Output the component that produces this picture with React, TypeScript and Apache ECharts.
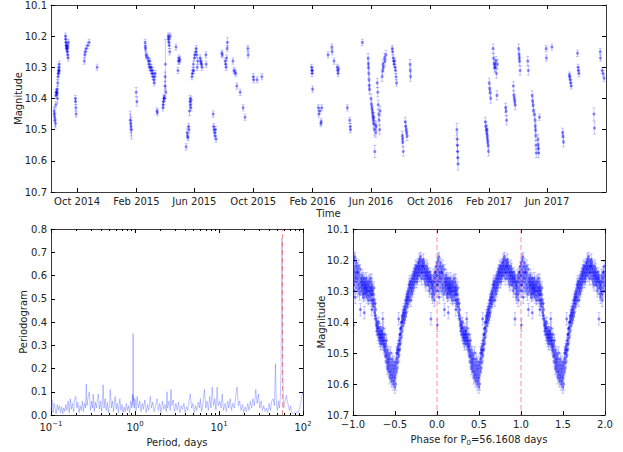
import React, { useEffect, useRef } from 'react';
import * as echarts from 'echarts';

// ---------- DATA ----------
// Time-series observations: [days since 2014-10-01, magnitude, error]
const obsEpoch = '2014-10-01';
const obs2014: [number, number, number][] = [
  [-47.5, 10.44, 0.015], [-47, 10.45, 0.02], [-46.5, 10.46, 0.015], [-45.5, 10.47, 0.02], [-44.5, 10.48, 0.015], [-44, 10.42, 0.01],
  [-44, 10.39, 0.01], [-43, 10.38, 0.01], [-42.5, 10.38, 0.01], [-42, 10.385, 0.01], [-41.5, 10.38, 0.01], [-41, 10.37, 0.01], [-40.5, 10.4, 0.015],
  [-40, 10.35, 0.01], [-39.5, 10.33, 0.01], [-39, 10.32, 0.01], [-38.5, 10.31, 0.01], [-38, 10.315, 0.01], [-37.5, 10.3, 0.01], [-37, 10.29, 0.01], [-36.5, 10.31, 0.01],
  [-24, 10.2, 0.01], [-23.5, 10.21, 0.01], [-23, 10.22, 0.01], [-22.5, 10.23, 0.01], [-22, 10.235, 0.01], [-21.5, 10.24, 0.01], [-21, 10.23, 0.01], [-20.5, 10.24, 0.01],
  [-20, 10.25, 0.01], [-19.5, 10.26, 0.01], [-19, 10.235, 0.01], [-18.5, 10.27, 0.01], [-18, 10.22, 0.01],
  [-3.5, 10.4, 0.01], [-3, 10.41, 0.01], [-2.5, 10.43, 0.01], [-2, 10.45, 0.01],
  [15, 10.28, 0.01], [16, 10.26, 0.01], [17, 10.25, 0.01], [19, 10.24, 0.01], [22, 10.23, 0.01], [25, 10.22, 0.01],
  [41.5, 10.3, 0.01],
];
const obs2015: [number, number, number][] = [
  [110, 10.47, 0.03], [111, 10.48, 0.03], [112, 10.49, 0.03], [113, 10.5, 0.03],
  [122.5, 10.38, 0.015], [124, 10.41, 0.015],
  [141, 10.22, 0.01], [141.5, 10.235, 0.01], [142, 10.24, 0.01], [143, 10.26, 0.01], [144, 10.265, 0.01],
  [147, 10.27, 0.01], [148, 10.28, 0.01], [149, 10.29, 0.01], [150, 10.3, 0.01], [151, 10.28, 0.01], [152, 10.3, 0.01], [153, 10.31, 0.01], [154, 10.3, 0.01],
  [155, 10.32, 0.01], [156, 10.31, 0.01], [157, 10.33, 0.01], [158, 10.32, 0.01], [159, 10.34, 0.01], [160, 10.35, 0.01], [161, 10.33, 0.01], [162, 10.32, 0.01],
  [165.5, 10.44, 0.01], [166.5, 10.445, 0.01],
  [178, 10.43, 0.01], [178.5, 10.42, 0.01], [179, 10.41, 0.01], [180, 10.4, 0.01], [180.5, 10.395, 0.01], [181, 10.4, 0.01], [182, 10.36, 0.015], [182.5, 10.33, 0.015], [183, 10.29, 0.08], [184, 10.38, 0.02],
  [189, 10.2, 0.01], [189.5, 10.21, 0.01], [190, 10.205, 0.01], [190.5, 10.22, 0.01], [191, 10.23, 0.01], [192, 10.25, 0.01], [193, 10.2, 0.01],
  [205, 10.235, 0.01],
  [209, 10.31, 0.01], [210, 10.28, 0.01], [211, 10.27, 0.01], [212, 10.28, 0.01], [213, 10.275, 0.01],
  [226, 10.555, 0.01], [228, 10.51, 0.015], [229, 10.52, 0.01], [230, 10.525, 0.01], [231, 10.49, 0.01], [232, 10.5, 0.01], [233, 10.44, 0.015], [234, 10.41, 0.01], [234.5, 10.4, 0.01], [235, 10.42, 0.01], [236, 10.43, 0.01], [236.5, 10.405, 0.01],
  [238, 10.33, 0.01], [239, 10.32, 0.01], [240, 10.31, 0.01], [241, 10.29, 0.01], [242, 10.31, 0.01], [243, 10.27, 0.01], [244, 10.26, 0.01], [246, 10.25, 0.01], [247, 10.24, 0.01], [248, 10.26, 0.01], [249, 10.3, 0.01], [250, 10.28, 0.01],
  [255, 10.27, 0.01], [256, 10.28, 0.01], [257, 10.285, 0.01], [258, 10.29, 0.01], [259, 10.3, 0.01],
  [267, 10.26, 0.01], [267.5, 10.29, 0.01],
  [282, 10.45, 0.01], [283, 10.49, 0.01], [284, 10.5, 0.01], [285, 10.51, 0.01], [286, 10.52, 0.01], [287, 10.5, 0.01], [288, 10.53, 0.01],
  [300, 10.255, 0.01], [301, 10.26, 0.01],
  [307, 10.28, 0.01], [308, 10.29, 0.01], [309, 10.3, 0.01], [310, 10.27, 0.01], [311, 10.24, 0.01], [311.5, 10.22, 0.015],
  [323, 10.28, 0.01], [325, 10.31, 0.01], [327, 10.315, 0.01], [329, 10.32, 0.01], [331, 10.36, 0.01],
  [338, 10.38, 0.01], [344, 10.43, 0.01], [348, 10.46, 0.01],
  [354, 10.24, 0.01], [354.5, 10.26, 0.01],
  [365, 10.33, 0.01], [366, 10.34, 0.01], [373, 10.34, 0.01], [383, 10.33, 0.01],
];
const obs2016: [number, number, number][] = [
  [486, 10.3, 0.01], [486.5, 10.31, 0.01], [487, 10.32, 0.01], [487.5, 10.31, 0.01], [488, 10.37, 0.01],
  [500, 10.43, 0.01], [501, 10.45, 0.01], [503, 10.44, 0.01], [505, 10.48, 0.01], [506, 10.475, 0.01], [507, 10.43, 0.01],
  [520, 10.26, 0.01], [528, 10.235, 0.01], [528.5, 10.25, 0.01], [532.5, 10.28, 0.01],
  [539, 10.3, 0.01], [540, 10.31, 0.01], [541, 10.32, 0.01], [542, 10.305, 0.01],
  [560, 10.43, 0.01], [565, 10.47, 0.01], [566, 10.49, 0.01], [566.5, 10.5, 0.01],
  [591, 10.22, 0.01],
  [603, 10.27, 0.015], [603.5, 10.29, 0.015], [604, 10.3, 0.015], [604.5, 10.32, 0.015], [605, 10.34, 0.015], [605.5, 10.36, 0.015], [606, 10.37, 0.015],
  [609, 10.4, 0.015], [610, 10.42, 0.015], [611, 10.43, 0.015], [612, 10.44, 0.015], [612.5, 10.45, 0.015], [613, 10.46, 0.015], [614, 10.47, 0.015],
  [614.5, 10.48, 0.015], [615, 10.46, 0.015], [616, 10.5, 0.02], [617, 10.57, 0.02], [618, 10.485, 0.015], [619, 10.51, 0.015], [620, 10.49, 0.015],
  [622, 10.35, 0.015], [623, 10.38, 0.015], [624, 10.42, 0.015], [625, 10.45, 0.015], [626, 10.47, 0.015], [627, 10.5, 0.015], [628, 10.44, 0.015],
  [632, 10.33, 0.015], [633, 10.31, 0.015], [634, 10.29, 0.015], [635, 10.3, 0.015], [637, 10.27, 0.015], [638, 10.28, 0.015], [640, 10.26, 0.015],
  [653, 10.24, 0.01], [654, 10.25, 0.01], [655, 10.27, 0.01], [656, 10.28, 0.01], [657, 10.29, 0.01], [658, 10.28, 0.01], [659, 10.3, 0.01], [660, 10.31, 0.01], [661, 10.33, 0.01], [662, 10.35, 0.01],
  [674, 10.52, 0.015], [674.5, 10.53, 0.015], [675, 10.54, 0.015], [676, 10.57, 0.015],
  [680, 10.475, 0.015], [681, 10.49, 0.015], [682, 10.5, 0.015], [683, 10.51, 0.015], [684, 10.52, 0.015],
  [690, 10.29, 0.015], [690.5, 10.31, 0.015], [691, 10.33, 0.015],
];
const obs2017: [number, number, number][] = [
  [787, 10.5, 0.02], [787.5, 10.53, 0.02], [788, 10.55, 0.02], [788.5, 10.57, 0.02], [789, 10.59, 0.02], [789.5, 10.61, 0.02],
  [846, 10.475, 0.015], [847, 10.49, 0.015], [848, 10.5, 0.015], [849, 10.51, 0.015], [849.5, 10.5, 0.015], [850, 10.52, 0.015], [850.5, 10.53, 0.015], [851, 10.54, 0.015], [852, 10.55, 0.015], [852.5, 10.57, 0.015],
  [854, 10.35, 0.015], [855, 10.37, 0.015], [856, 10.38, 0.015], [857, 10.4, 0.015],
  [862, 10.24, 0.015], [863, 10.27, 0.015], [864, 10.29, 0.015], [865, 10.3, 0.015], [866, 10.29, 0.015], [867, 10.3, 0.015], [868, 10.28, 0.015], [869, 10.32, 0.015], [870, 10.39, 0.015], [871, 10.29, 0.015],
  [888, 10.43, 0.015], [889, 10.44, 0.015], [890, 10.47, 0.015],
  [904, 10.36, 0.015], [905, 10.39, 0.015], [906, 10.4, 0.015], [907, 10.41, 0.015], [908, 10.42, 0.015],
  [915, 10.24, 0.015], [916, 10.26, 0.015], [916.5, 10.27, 0.015], [917, 10.28, 0.015], [918, 10.31, 0.015],
  [934, 10.28, 0.015], [935, 10.31, 0.015],
  [943, 10.39, 0.015], [944, 10.41, 0.015], [945, 10.42, 0.015], [945.5, 10.44, 0.015],
  [948, 10.45, 0.015], [949, 10.47, 0.015], [949.5, 10.49, 0.015], [950, 10.5, 0.015], [950.5, 10.52, 0.015], [951, 10.55, 0.015], [951.5, 10.575, 0.015],
  [955, 10.53, 0.015], [955.5, 10.55, 0.015], [956, 10.56, 0.015], [956.5, 10.575, 0.015], [958, 10.46, 0.01],
  [972, 10.24, 0.01], [972.5, 10.27, 0.01], [984, 10.235, 0.01],
  [1006, 10.51, 0.015], [1007, 10.52, 0.015], [1008, 10.54, 0.015],
  [1020, 10.325, 0.01], [1021, 10.33, 0.01], [1022, 10.34, 0.01], [1023, 10.35, 0.01], [1024, 10.36, 0.01],
  [1037, 10.255, 0.01], [1038, 10.3, 0.01], [1039, 10.31, 0.01], [1040, 10.32, 0.01],
  [1071, 10.45, 0.02], [1072, 10.495, 0.02],
  [1084, 10.25, 0.01], [1084.5, 10.27, 0.01],
  [1088, 10.31, 0.01], [1090, 10.32, 0.01], [1092, 10.335, 0.01],
];

const timeMin = '2014-08-08';
const timeMax = '2017-10-01';
const timeTickDates = ['2014-10-01', '2015-02-01', '2015-06-01', '2015-10-01', '2016-02-01', '2016-06-01', '2016-10-01', '2017-02-01', '2017-06-01'];
const timeTickLabels = ['Oct 2014', 'Feb 2015', 'Jun 2015', 'Oct 2015', 'Feb 2016', 'Jun 2016', 'Oct 2016', 'Feb 2017', 'Jun 2017'];

// Periodogram
const pgPeriod = [
  0.100, 0.103, 0.106, 0.109, 0.112, 0.115, 0.119, 0.122, 0.126, 0.130, 0.134, 0.138, 0.142, 0.146, 0.150, 0.155, 0.160, 0.165, 0.170, 0.175,
  0.180, 0.186, 0.191, 0.197, 0.203, 0.209, 0.216, 0.222, 0.229, 0.236, 0.243, 0.250, 0.258, 0.263, 0.268, 0.275, 0.286, 0.295, 0.304, 0.313,
  0.318, 0.328, 0.338, 0.348, 0.358, 0.366, 0.377, 0.388, 0.400, 0.408, 0.417, 0.428, 0.441, 0.455, 0.469, 0.483, 0.498, 0.508, 0.523, 0.539,
  0.555, 0.580, 0.598, 0.616, 0.635, 0.660, 0.680, 0.700, 0.722, 0.744, 0.766, 0.790, 0.814, 0.838, 0.864, 0.890, 0.917, 0.935, 0.945, 0.950,
  0.955, 0.965, 0.980, 1.000,
  1.03, 1.06, 1.10, 1.14, 1.18, 1.22, 1.26, 1.31, 1.36, 1.41, 1.46, 1.52, 1.57, 1.63, 1.69, 1.76, 1.83, 1.90, 1.97, 2.04,
  2.12, 2.20, 2.28, 2.36, 2.40, 2.45, 2.54, 2.63, 2.68, 2.75, 2.85, 2.96, 3.07, 3.18, 3.30, 3.42, 3.55, 3.68, 3.82, 3.96,
  4.10, 4.25, 4.40, 4.55, 4.72, 4.90, 5.08, 5.27, 5.46, 5.66, 5.87, 6.00, 6.20, 6.45, 6.70, 6.95, 7.20, 7.47, 7.75, 8.03,
  8.30, 8.60, 8.92, 9.20, 9.50, 9.80,
  10.2, 10.6, 10.9, 11.3, 11.8, 12.2, 12.7, 13.1, 13.6, 14.1, 14.6, 15.2, 15.8, 16.4, 17.0, 17.6, 18.3, 19.0, 19.7, 20.4,
  21.2, 22.0, 22.8, 23.6, 24.5, 25.4, 26.4, 27.4, 28.4, 29.5, 30.6, 31.7, 32.9, 34.1, 35.4, 36.7, 38.1, 39.5, 41.0, 42.5,
  44.1, 45.7, 47.0, 48.2, 49.5, 51.0, 52.5, 53.8, 54.8, 55.5, 56.16, 56.8, 57.6, 58.8, 60.3, 62.0, 63.5, 65.0, 67.0, 69.0,
  71.0, 73.5, 76.0, 79.0, 82.0, 85.0, 88.0, 91.0, 94.0, 97.0, 100.0,
];
const pgPower = [
  0.02, 0.065, 0.01, 0.05, 0.03, 0.005, 0.045, 0.02, 0.04, 0.01, 0.035, 0.005, 0.03, 0.015, 0.045, 0.02, 0.06, 0.01, 0.07, 0.025,
  0.05, 0.015, 0.065, 0.08, 0.03, 0.055, 0.01, 0.04, 0.02, 0.06, 0.015, 0.05, 0.03, 0.133, 0.04, 0.07, 0.1, 0.02, 0.06, 0.03,
  0.09, 0.015, 0.055, 0.03, 0.07, 0.09, 0.025, 0.06, 0.015, 0.05, 0.13, 0.03, 0.07, 0.02, 0.055, 0.01, 0.045, 0.11, 0.03, 0.06,
  0.015, 0.08, 0.025, 0.05, 0.01, 0.07, 0.02, 0.045, 0.01, 0.035, 0.015, 0.05, 0.02, 0.04, 0.01, 0.06, 0.03, 0.09, 0.04, 0.35,
  0.06, 0.08, 0.03, 0.07,
  0.02, 0.08, 0.03, 0.06, 0.015, 0.05, 0.025, 0.065, 0.01, 0.045, 0.02, 0.08, 0.03, 0.055, 0.015, 0.04, 0.07, 0.02, 0.05, 0.01,
  0.06, 0.025, 0.045, 0.015, 0.1, 0.03, 0.06, 0.02, 0.11, 0.04, 0.065, 0.015, 0.05, 0.02, 0.055, 0.01, 0.04, 0.025, 0.05, 0.01,
  0.035, 0.02, 0.06, 0.09, 0.03, 0.05, 0.01, 0.04, 0.02, 0.055, 0.03, 0.07, 0.015, 0.05, 0.11, 0.03, 0.06, 0.02, 0.08, 0.03,
  0.12, 0.04, 0.07, 0.02, 0.12, 0.04,
  0.06, 0.03, 0.09, 0.02, 0.05, 0.015, 0.06, 0.03, 0.07, 0.02, 0.05, 0.03, 0.08, 0.12, 0.04, 0.06, 0.02, 0.045, 0.01, 0.035,
  0.015, 0.05, 0.02, 0.06, 0.03, 0.07, 0.04, 0.11, 0.05, 0.09, 0.03, 0.06, 0.02, 0.04, 0.015, 0.03, 0.01, 0.05, 0.02, 0.06,
  0.07, 0.04, 0.22, 0.05, 0.02, 0.06, 0.03, 0.08, 0.2, 0.5, 0.76, 0.45, 0.15, 0.03, 0.05, 0.07, 0.085, 0.06, 0.04, 0.02,
  0.04, 0.01, 0.005, 0.01, 0.005, 0.015, 0.01, 0.03, 0.05, 0.08, 0.1,
];
const bestPeriod = 56.1608;
const logMinorTicks = [0.2, 0.3, 0.4, 0.5, 0.6, 0.7, 0.8, 0.9, 2, 3, 4, 5, 6, 7, 8, 9, 20, 30, 40, 50, 60, 70, 80, 90];

// Phase-folded light curve: [phase (0..1), magnitude, error]
const phaseObs: [number, number, number][] = [
  [0.002, 10.21, 0.015], [0.005, 10.25, 0.02], [0.008, 10.28, 0.015], [0.004, 10.41, 0.02],
  [0.012, 10.23, 0.015], [0.015, 10.2, 0.02], [0.018, 10.27, 0.015], [0.014, 10.3, 0.02],
  [0.022, 10.19, 0.015], [0.025, 10.24, 0.015], [0.028, 10.26, 0.02], [0.026, 10.32, 0.02],
  [0.032, 10.22, 0.015], [0.035, 10.25, 0.015], [0.038, 10.29, 0.02],
  [0.042, 10.21, 0.015], [0.045, 10.27, 0.015], [0.048, 10.24, 0.02],
  [0.052, 10.23, 0.015], [0.055, 10.26, 0.015], [0.058, 10.3, 0.02],
  [0.062, 10.24, 0.015], [0.065, 10.28, 0.015], [0.068, 10.22, 0.02],
  [0.072, 10.25, 0.015], [0.075, 10.29, 0.015], [0.078, 10.31, 0.02],
  [0.082, 10.27, 0.015], [0.085, 10.23, 0.015], [0.088, 10.36, 0.02],
  [0.092, 10.26, 0.015], [0.095, 10.3, 0.015], [0.098, 10.28, 0.02],
  [0.102, 10.27, 0.015], [0.105, 10.29, 0.015], [0.108, 10.25, 0.02],
  [0.112, 10.28, 0.015], [0.115, 10.31, 0.015], [0.118, 10.26, 0.02],
  [0.122, 10.27, 0.015], [0.125, 10.3, 0.015], [0.128, 10.29, 0.02], [0.124, 10.32, 0.015],
  [0.132, 10.28, 0.015], [0.135, 10.26, 0.015], [0.138, 10.31, 0.02], [0.134, 10.37, 0.02],
  [0.142, 10.29, 0.015], [0.145, 10.27, 0.015], [0.148, 10.3, 0.02],
  [0.152, 10.28, 0.015], [0.155, 10.31, 0.015], [0.158, 10.26, 0.02], [0.154, 10.29, 0.015],
  [0.162, 10.3, 0.015], [0.165, 10.27, 0.015], [0.168, 10.32, 0.02],
  [0.172, 10.29, 0.015], [0.175, 10.28, 0.015], [0.178, 10.31, 0.02],
  [0.182, 10.3, 0.015], [0.185, 10.33, 0.015], [0.188, 10.27, 0.02],
  [0.192, 10.28, 0.015], [0.195, 10.3, 0.015], [0.198, 10.32, 0.02],
  [0.202, 10.26, 0.015], [0.205, 10.29, 0.015], [0.208, 10.31, 0.02],
  [0.212, 10.27, 0.015], [0.215, 10.3, 0.015], [0.218, 10.33, 0.02],
  [0.222, 10.29, 0.045], [0.225, 10.31, 0.015], [0.228, 10.28, 0.02], [0.224, 10.36, 0.02],
  [0.232, 10.3, 0.015], [0.235, 10.33, 0.015], [0.238, 10.34, 0.02],
  [0.242, 10.31, 0.015], [0.245, 10.35, 0.015], [0.248, 10.29, 0.02],
  [0.252, 10.33, 0.015], [0.257, 10.37, 0.02],
  [0.262, 10.34, 0.015], [0.265, 10.38, 0.015], [0.268, 10.36, 0.02],
  [0.272, 10.39, 0.015], [0.277, 10.41, 0.02],
  [0.282, 10.4, 0.015], [0.285, 10.43, 0.015], [0.288, 10.42, 0.02],
  [0.292, 10.41, 0.015], [0.297, 10.44, 0.02],
  [0.302, 10.42, 0.015], [0.305, 10.4, 0.015], [0.308, 10.45, 0.02],
  [0.312, 10.43, 0.015], [0.315, 10.44, 0.015], [0.318, 10.46, 0.02],
  [0.322, 10.42, 0.015], [0.325, 10.45, 0.015], [0.328, 10.47, 0.02],
  [0.332, 10.44, 0.015], [0.335, 10.43, 0.015], [0.338, 10.46, 0.02],
  [0.342, 10.45, 0.015], [0.345, 10.43, 0.015], [0.348, 10.47, 0.02],
  [0.352, 10.44, 0.015], [0.355, 10.46, 0.015], [0.358, 10.42, 0.02], [0.354, 10.39, 0.02],
  [0.362, 10.45, 0.015], [0.365, 10.47, 0.015], [0.368, 10.48, 0.02],
  [0.372, 10.46, 0.015], [0.375, 10.49, 0.015], [0.378, 10.44, 0.02],
  [0.382, 10.48, 0.015], [0.385, 10.51, 0.015], [0.388, 10.47, 0.02],
  [0.392, 10.5, 0.015], [0.395, 10.53, 0.015], [0.398, 10.46, 0.02],
  [0.402, 10.51, 0.015], [0.405, 10.49, 0.015], [0.408, 10.55, 0.02],
  [0.412, 10.52, 0.015], [0.415, 10.54, 0.015], [0.418, 10.5, 0.02],
  [0.422, 10.53, 0.015], [0.425, 10.56, 0.015], [0.428, 10.51, 0.02],
  [0.432, 10.55, 0.015], [0.435, 10.52, 0.015], [0.438, 10.58, 0.02],
  [0.442, 10.54, 0.015], [0.445, 10.57, 0.015], [0.448, 10.5, 0.02],
  [0.452, 10.56, 0.015], [0.455, 10.53, 0.015], [0.458, 10.59, 0.02],
  [0.462, 10.55, 0.015], [0.465, 10.58, 0.015], [0.468, 10.52, 0.02],
  [0.472, 10.57, 0.015], [0.475, 10.54, 0.015], [0.478, 10.6, 0.02],
  [0.482, 10.56, 0.015], [0.485, 10.59, 0.015], [0.488, 10.53, 0.02],
  [0.492, 10.55, 0.015], [0.495, 10.58, 0.015], [0.498, 10.61, 0.02],
  [0.502, 10.57, 0.015], [0.505, 10.54, 0.015], [0.508, 10.6, 0.02],
  [0.512, 10.53, 0.015], [0.515, 10.56, 0.015], [0.518, 10.5, 0.02],
  [0.522, 10.52, 0.015], [0.525, 10.55, 0.015], [0.528, 10.49, 0.02],
  [0.532, 10.5, 0.015], [0.535, 10.53, 0.015], [0.538, 10.48, 0.02],
  [0.542, 10.49, 0.015], [0.545, 10.51, 0.015], [0.548, 10.47, 0.02], [0.544, 10.39, 0.02],
  [0.552, 10.46, 0.015], [0.555, 10.49, 0.015], [0.558, 10.44, 0.02],
  [0.562, 10.44, 0.015], [0.565, 10.47, 0.015], [0.568, 10.42, 0.02],
  [0.572, 10.42, 0.015], [0.575, 10.45, 0.015], [0.578, 10.4, 0.02],
  [0.582, 10.4, 0.015], [0.585, 10.43, 0.015], [0.588, 10.38, 0.02],
  [0.592, 10.39, 0.015], [0.595, 10.41, 0.015], [0.598, 10.37, 0.02],
  [0.602, 10.38, 0.015], [0.605, 10.4, 0.015], [0.608, 10.36, 0.02],
  [0.612, 10.37, 0.015], [0.615, 10.39, 0.015], [0.618, 10.35, 0.02],
  [0.622, 10.36, 0.015], [0.625, 10.38, 0.015], [0.628, 10.33, 0.02],
  [0.632, 10.34, 0.015], [0.635, 10.37, 0.015], [0.638, 10.32, 0.02],
  [0.642, 10.33, 0.015], [0.645, 10.35, 0.015], [0.648, 10.31, 0.02],
  [0.652, 10.32, 0.015], [0.655, 10.34, 0.015], [0.658, 10.3, 0.02],
  [0.662, 10.31, 0.015], [0.665, 10.33, 0.015], [0.668, 10.28, 0.02],
  [0.672, 10.29, 0.015], [0.675, 10.32, 0.015], [0.678, 10.27, 0.02],
  [0.682, 10.28, 0.015], [0.685, 10.3, 0.015], [0.688, 10.33, 0.02],
  [0.692, 10.27, 0.015], [0.695, 10.29, 0.015], [0.698, 10.31, 0.02],
  [0.702, 10.26, 0.015], [0.705, 10.28, 0.015], [0.708, 10.3, 0.02],
  [0.712, 10.25, 0.015], [0.715, 10.27, 0.015], [0.718, 10.29, 0.02],
  [0.722, 10.26, 0.015], [0.725, 10.24, 0.015], [0.728, 10.28, 0.02],
  [0.732, 10.25, 0.015], [0.735, 10.23, 0.015], [0.738, 10.27, 0.02],
  [0.742, 10.24, 0.015], [0.745, 10.26, 0.015], [0.748, 10.22, 0.02],
  [0.752, 10.23, 0.015], [0.755, 10.25, 0.015], [0.758, 10.27, 0.02],
  [0.762, 10.22, 0.015], [0.765, 10.24, 0.015], [0.768, 10.26, 0.02],
  [0.772, 10.23, 0.015], [0.775, 10.21, 0.015], [0.778, 10.25, 0.02],
  [0.782, 10.22, 0.015], [0.785, 10.24, 0.015], [0.788, 10.2, 0.02],
  [0.792, 10.21, 0.015], [0.795, 10.23, 0.015], [0.798, 10.25, 0.02],
  [0.802, 10.19, 0.015], [0.805, 10.22, 0.015], [0.808, 10.24, 0.02],
  [0.812, 10.2, 0.015], [0.815, 10.23, 0.015], [0.818, 10.26, 0.02],
  [0.822, 10.21, 0.015], [0.825, 10.24, 0.015], [0.828, 10.22, 0.02],
  [0.832, 10.22, 0.015], [0.835, 10.25, 0.015], [0.838, 10.2, 0.02],
  [0.842, 10.23, 0.015], [0.845, 10.21, 0.015], [0.848, 10.26, 0.02],
  [0.852, 10.24, 0.015], [0.855, 10.22, 0.015], [0.858, 10.27, 0.02],
  [0.862, 10.23, 0.015], [0.865, 10.25, 0.015], [0.868, 10.28, 0.02],
  [0.872, 10.24, 0.015], [0.875, 10.26, 0.015], [0.878, 10.22, 0.02],
  [0.882, 10.25, 0.015], [0.885, 10.27, 0.015], [0.888, 10.23, 0.02],
  [0.892, 10.24, 0.015], [0.895, 10.28, 0.015], [0.898, 10.26, 0.02],
  [0.902, 10.25, 0.015], [0.905, 10.27, 0.015], [0.908, 10.3, 0.02],
  [0.912, 10.26, 0.015], [0.915, 10.24, 0.015], [0.918, 10.29, 0.02],
  [0.922, 10.27, 0.015], [0.925, 10.25, 0.015], [0.928, 10.39, 0.02],
  [0.932, 10.26, 0.015], [0.935, 10.28, 0.015], [0.938, 10.31, 0.02],
  [0.942, 10.27, 0.015], [0.945, 10.29, 0.015], [0.948, 10.32, 0.02],
  [0.952, 10.28, 0.015], [0.955, 10.3, 0.015], [0.958, 10.25, 0.02],
  [0.962, 10.27, 0.015], [0.965, 10.31, 0.015], [0.968, 10.33, 0.02],
  [0.972, 10.26, 0.015], [0.975, 10.29, 0.015], [0.978, 10.24, 0.02],
  [0.982, 10.24, 0.015], [0.985, 10.27, 0.015], [0.988, 10.3, 0.02],
  [0.992, 10.22, 0.015], [0.995, 10.25, 0.015], [0.998, 10.28, 0.02],
];
const phaseCycles = [-1, 0, 1];
const phaseMarkers = [0, 1];

// ---------- STYLE ----------
const FONT = 'DejaVu Sans';
const TXT = '#222';
const FRAME = '#3a3a3a';
const PT = 'rgba(0,0,255,0.45)';
const ERR = 'rgba(0,0,255,0.22)';
const RED = 'rgba(255,60,60,0.55)';

const DAY = 86400000;
const epochTs = Date.parse(obsEpoch);
const toTs = (d: string) => Date.parse(d);

function errorBarItem(params: any, api: any) {
  const x = api.value(0);
  const y = api.value(1);
  const e = api.value(2);
  const c = api.coord([x, y]);
  const a = api.coord([x, y - e]);
  const b = api.coord([x, y + e]);
  return {
    type: 'group',
    children: [
      { type: 'line', shape: { x1: c[0], y1: a[1], x2: c[0], y2: b[1] }, style: { stroke: ERR, lineWidth: 1 } },
      { type: 'line', shape: { x1: c[0] - 1.5, y1: a[1], x2: c[0] + 1.5, y2: a[1] }, style: { stroke: ERR, lineWidth: 1 } },
      { type: 'line', shape: { x1: c[0] - 1.5, y1: b[1], x2: c[0] + 1.5, y2: b[1] }, style: { stroke: ERR, lineWidth: 1 } },
      { type: 'circle', shape: { cx: c[0], cy: c[1], r: 1.5 }, style: { fill: PT } },
    ],
  };
}

const labelStyle = { fontFamily: FONT, fontSize: 10, color: TXT };
const nameStyle = { fontFamily: FONT, fontSize: 10, color: TXT };
const lineStyle = { color: FRAME, width: 1 };

function frameAxis(extra: any) {
  return {
    axisLine: { show: true, onZero: false, lineStyle },
    axisTick: { show: true, inside: true, length: 4, lineStyle: { color: '#000', width: 1 } },
    splitLine: { show: false },
    nameMoveOverlap: false,
    ...extra,
  };
}

function minorAxis(position: string) {
  return {
    gridIndex: 1, type: 'log', logBase: 10, position, min: 0.1, max: 100,
    axisLine: { show: false, onZero: false }, axisLabel: { show: false }, splitLine: { show: false },
    axisTick: { show: true, inside: true, length: 2, customValues: logMinorTicks, lineStyle: { color: '#000', width: 1 } },
  };
}

export default function App() {
  const ref = useRef<HTMLDivElement>(null);
  useEffect(() => {
    if (!ref.current) return;
    const chart = echarts.init(ref.current, null, { renderer: 'svg' });

    const obsAll = [...obs2014, ...obs2015, ...obs2016, ...obs2017].map(([d, m, e]) => [epochTs + d * DAY, m, e]);
    const tickTs = timeTickDates.map(toTs);
    const tsLabel = (v: number) => {
      const i = tickTs.indexOf(v);
      return i >= 0 ? timeTickLabels[i] : '';
    };
    const pgData = pgPeriod.map((p, i) => [p, pgPower[i]]);
    const phaseData: number[][] = [];
    phaseCycles.forEach((k) => phaseObs.forEach(([p, m, e]) => phaseData.push([p + k, m, e])));

    const magFmt = (v: number) => v.toFixed(1);
    const minus = (s: string) => s.replace('-', '\u2212');

    const tMin = toTs(timeMin);
    const tMax = toTs(timeMax);

    chart.setOption({
      animation: false,
      backgroundColor: '#fff',
      textStyle: { fontFamily: FONT },
      grid: [
        { left: 51, top: 5, width: 555, height: 187 },
        { left: 51, top: 229, width: 252, height: 186 },
        { left: 353, top: 229, width: 252, height: 186 },
      ],
      xAxis: [
        frameAxis({
          gridIndex: 0, type: 'value', position: 'bottom', min: tMin, max: tMax,
          axisTick: { show: true, inside: true, length: 4, customValues: tickTs, lineStyle: { color: '#000' } },
          axisLabel: { ...labelStyle, margin: 4, customValues: tickTs, formatter: tsLabel },
          name: 'Time', nameLocation: 'middle', nameGap: 16, nameTextStyle: nameStyle,
        }),
        frameAxis({
          gridIndex: 0, type: 'value', position: 'top', min: tMin, max: tMax,
          axisTick: { show: true, inside: true, length: 4, customValues: tickTs, lineStyle: { color: '#000' } },
          axisLabel: { show: false },
        }),
        frameAxis({
          gridIndex: 1, type: 'log', logBase: 10, position: 'bottom', min: 0.1, max: 100,
          axisLabel: {
            ...labelStyle, margin: 5,
            formatter: (v: number) => `10{sup|${minus(String(Math.round(Math.log10(v))))}}`,
            rich: { sup: { fontFamily: FONT, fontSize: 7, color: TXT, padding: [0, 0, 7, 0] } },
          },
          name: 'Period, days', nameLocation: 'middle', nameGap: 22, nameTextStyle: nameStyle,
        }),
        frameAxis({ gridIndex: 1, type: 'log', logBase: 10, position: 'top', min: 0.1, max: 100, axisLabel: { show: false } }),
        minorAxis('bottom'),
        minorAxis('top'),
        frameAxis({
          gridIndex: 2, type: 'value', position: 'bottom', min: -1, max: 2, interval: 0.5,
          axisLabel: { ...labelStyle, margin: 4, formatter: (v: number) => minus(v.toFixed(1)) },
          name: 'Phase for P{sub|0}=56.1608 days', nameLocation: 'middle', nameGap: 18,
          nameTextStyle: { ...nameStyle, rich: { sub: { fontFamily: FONT, fontSize: 7, color: TXT, padding: [6, 0, 0, 0] } } },
        }),
        frameAxis({ gridIndex: 2, type: 'value', position: 'top', min: -1, max: 2, interval: 0.5, axisLabel: { show: false } }),
      ],
      yAxis: [
        frameAxis({
          gridIndex: 0, type: 'value', position: 'left', inverse: true, min: 10.1, max: 10.7, interval: 0.1,
          axisLabel: { ...labelStyle, margin: 4, formatter: magFmt },
          name: 'Magnitude', nameLocation: 'middle', nameGap: 28, nameRotate: 90, nameTextStyle: nameStyle,
        }),
        frameAxis({ gridIndex: 0, type: 'value', position: 'right', inverse: true, min: 10.1, max: 10.7, interval: 0.1, axisLabel: { show: false } }),
        frameAxis({
          gridIndex: 1, type: 'value', position: 'left', min: 0, max: 0.8, interval: 0.1,
          axisLabel: { ...labelStyle, margin: 4, formatter: (v: number) => v.toFixed(1) },
          name: 'Periodogram', nameLocation: 'middle', nameGap: 23, nameRotate: 90, nameTextStyle: nameStyle,
        }),
        frameAxis({ gridIndex: 1, type: 'value', position: 'right', min: 0, max: 0.8, interval: 0.1, axisLabel: { show: false } }),
        frameAxis({
          gridIndex: 2, type: 'value', position: 'left', inverse: true, min: 10.1, max: 10.7, interval: 0.1,
          axisLabel: { ...labelStyle, margin: 4, formatter: magFmt },
          name: 'Magnitude', nameLocation: 'middle', nameGap: 27, nameRotate: 90, nameTextStyle: nameStyle,
        }),
        frameAxis({ gridIndex: 2, type: 'value', position: 'right', inverse: true, min: 10.1, max: 10.7, interval: 0.1, axisLabel: { show: false } }),
      ],
      series: [
        {
          type: 'custom', xAxisIndex: 0, yAxisIndex: 0, renderItem: errorBarItem, data: obsAll, clip: true, silent: true,
          encode: { x: 0, y: 1 },
        },
        {
          type: 'line', xAxisIndex: 2, yAxisIndex: 2, data: pgData, showSymbol: false, symbol: 'none', silent: true,
          lineStyle: { color: 'rgba(40,60,255,0.3)', width: 1 },
          markLine: {
            silent: true, symbol: 'none', label: { show: false },
            lineStyle: { color: RED, type: [5, 3], width: 1 },
            data: [{ xAxis: bestPeriod }],
          },
        },
        {
          type: 'custom', xAxisIndex: 6, yAxisIndex: 4, renderItem: errorBarItem, data: phaseData, clip: true, silent: true,
          encode: { x: 0, y: 1 },
        },
        ...phaseMarkers.map((m) => ({
          type: 'line', xAxisIndex: 6, yAxisIndex: 4, data: [[m, 10.1], [m, 10.7]], symbol: 'none', silent: true,
          lineStyle: { color: RED, type: [5, 3], width: 1 },
        })),
      ],
    });
    return () => chart.dispose();
  }, []);

  return <div ref={ref} style={{ position: 'absolute', left: 0, top: 0, width: 623, height: 452, background: '#fff' }} />;
}
